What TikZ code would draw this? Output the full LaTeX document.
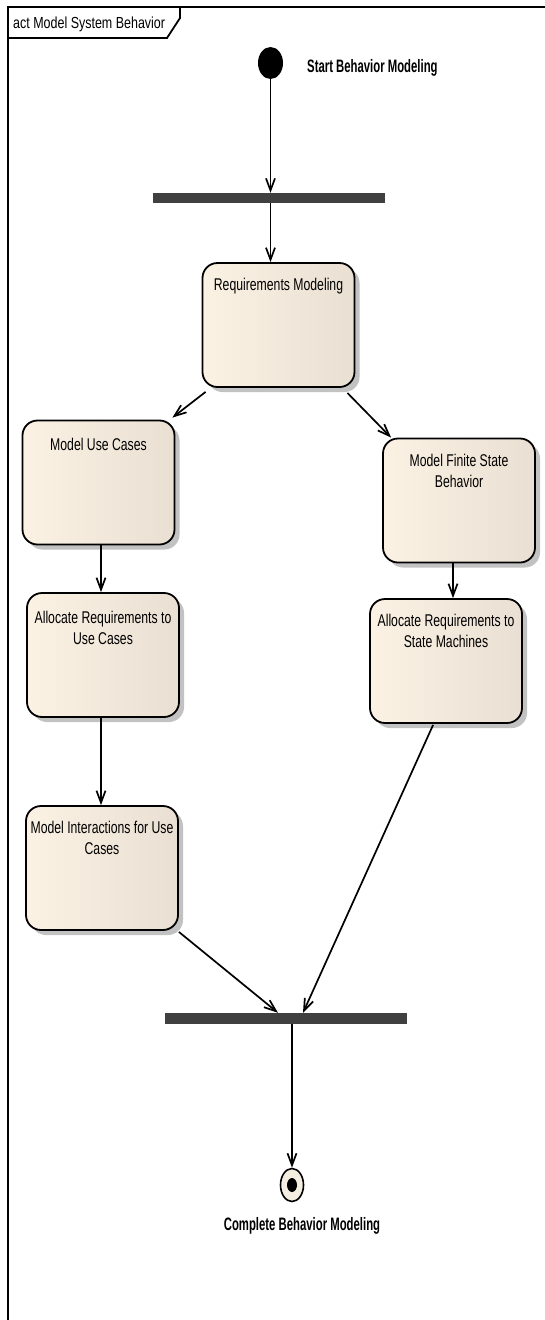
\documentclass[tikz,border=0pt]{standalone}
\usepackage{fontspec}
\usepackage{graphicx}
\setmainfont{Liberation Sans}
\usetikzlibrary{arrows.meta,calc,shapes.geometric}

\definecolor{actL}{HTML}{FBF2E4}
\definecolor{actR}{HTML}{E9DFD2}
\definecolor{shadowc}{HTML}{C2C2C2}
\definecolor{barc}{HTML}{404040}
\definecolor{finalfill}{HTML}{F4EEE2}

% narrow text helpers
\newcommand{\sqz}[1]{\scalebox{0.72}[1]{#1}}
\newcommand{\sqzb}[1]{\scalebox{0.67}[1]{\bfseries #1}}

\begin{document}
\begin{tikzpicture}[x=1pt,y=-1pt,
  activity/.style={draw=black, line width=1.8pt, rounded corners=15pt,
    minimum width=152pt, minimum height=124pt, inner sep=0pt,
    left color=actL, right color=actR,
    preaction={fill=shadowc, transform canvas={xshift=5pt,yshift=-5pt}}},
  boxtext/.style={anchor=north, inner sep=0pt, align=center,
    font=\fontsize{17}{21}\selectfont},
  syncbar/.style={fill=barc, inner sep=0pt},
  arr/.style={draw=black, line width=1.7pt,
    -{Straight Barb[length=12pt,width=9pt]}},
  biglabel/.style={inner sep=0pt, font=\fontsize{18}{20}\selectfont}]

% canvas
\fill[white] (0,0) rectangle (545,1320);
\useasboundingbox (0,0) rectangle (545,1320);

% diagram frame and its name tab
\draw[line width=2.2pt] (8,1320) -- (8,7) -- (545,7);
\draw[line width=1.8pt] (8,38) -- (167,38) -- (180,18) -- (180,7);
\node[anchor=base west, inner sep=0pt, font=\fontsize{16}{18}\selectfont]
  (frametitle) at (13,28) {\scalebox{0.78}[1]{act Model System Behavior}};

% initial node
\node[ellipse, fill=black, minimum width=25pt, minimum height=32pt, inner sep=0pt]
  (start) at (270.5,63) {};
\node[biglabel, anchor=base west] (startlbl) at (307,72) {\scalebox{0.63}[1]{\bfseries Start Behavior Modeling}};

% fork and join bars
\node[syncbar, minimum width=232pt, minimum height=10pt] (fork) at (269,198) {};
\node[syncbar, minimum width=242pt, minimum height=11pt] (join) at (286,1018.5) {};

% activities
\node[activity] (req)  at (278.5,325)  {};
\node[activity] (muc)  at (98.5,482.5) {};
\node[activity] (mfsb) at (459,500.5)  {};
\node[activity] (auc)  at (103,655)    {};
\node[activity] (asm)  at (446,661)    {};
\node[activity] (mi)   at (102,868)    {};

\node[boxtext] (reqt)  at ($(req.north)+(0,16)$)  {\sqz{Requirements Modeling}};
\node[boxtext] (muct)  at ($(muc.north)+(0,18)$)  {\sqz{Model Use Cases}};
\node[boxtext] (mfsbt) at ($(mfsb.north)+(0,16)$) {\sqz{Model Finite State}\\\sqz{Behavior}};
\node[boxtext] (auct)  at ($(auc.north)+(0,19)$)  {\sqz{Allocate Requirements to}\\\sqz{Use Cases}};
\node[boxtext] (asmt)  at ($(asm.north)+(0,16)$)  {\sqz{Allocate Requirements to}\\\sqz{State Machines}};
\node[boxtext] (mit)   at ($(mi.north)+(0,16)$)   {\sqz{Model Interactions for Use}\\\sqz{Cases}};

% final node
\node[ellipse, draw=black, line width=1.6pt, fill=finalfill,
  minimum width=23pt, minimum height=33pt, inner sep=0pt] (final) at (292,1185) {};
\node[ellipse, fill=black, minimum width=10pt, minimum height=14pt, inner sep=0pt]
  (finaldot) at (final.center) {};
\node[biglabel, anchor=base] (endlbl) at (302,1230) {\scalebox{0.63}[1]{\bfseries Complete Behavior Modeling}};

% guide coordinates for vertical flows
\coordinate (lx) at (101,0);
\coordinate (rx) at (453,0);
\coordinate (j1) at (278,0);
\coordinate (j2) at (303,0);

% control flows
\draw[arr] (start.south) -- (start.south |- fork.north);
\draw[arr] (fork.south -| start) -- (req.north -| start);
\draw[arr] ($(req.south west)+(4,4)$) -- ($(muc.north east)+(-3,-2)$);
\draw[arr] ($(req.south east)+(-8,5)$) -- ($(mfsb.north west)+(9,0)$);
\draw[arr] (muc.south -| lx) -- (auc.north -| lx);
\draw[arr] (mfsb.south -| rx) -- (asm.north -| rx);
\draw[arr] (auc.south -| lx) -- (mi.north -| lx);
\draw[arr] ($(mi.south east)+(0,1)$) -- (join.north -| j1);
\draw[arr] ($(asm.south west)+(64,1)$) -- (join.north -| j2);
\draw[arr] (join.south -| final) -- (final.north);

\end{tikzpicture}
\end{document}
